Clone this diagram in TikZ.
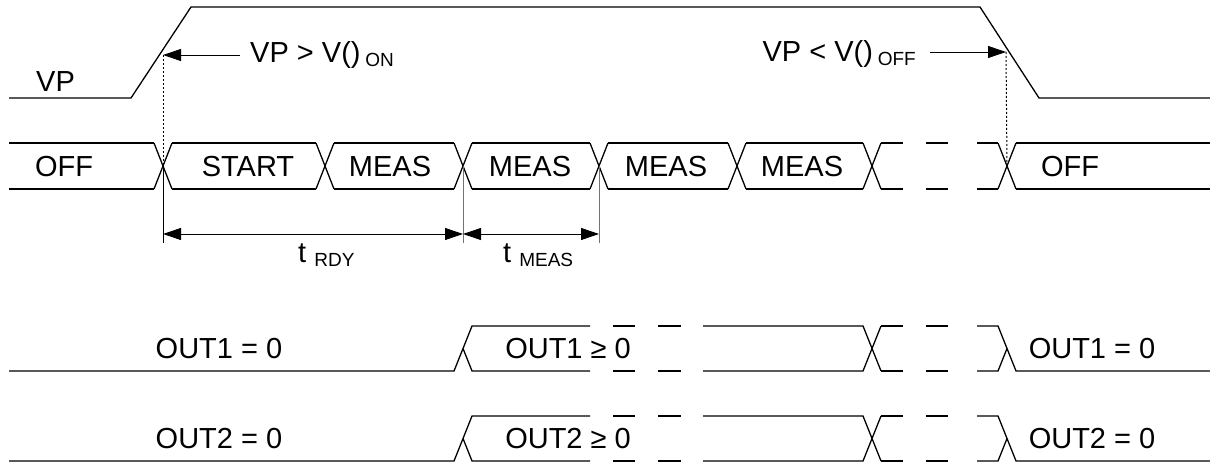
\documentclass[tikz,border=0pt]{standalone}
\usepackage{fontspec}
\setmainfont{Liberation Sans}
\usetikzlibrary{arrows.meta}
\newcommand\lbl{\fontsize{29}{34}\selectfont}
\newcommand\sublbl[1]{\raisebox{-4pt}{\fontsize{19}{22}\selectfont #1}}
\newcommand\busX[3]{
  \draw[sig] (#1-9,#2) -- (#1+9,#3) (#1-9,#3) -- (#1+9,#2);
}
\tikzset{>={Triangle[length=18pt,width=12pt]},
  sig/.style={line width=1.3pt},
  txt/.style={inner sep=0pt,font=\lbl,anchor=base},
  guide/.style={line width=1pt,dash pattern=on 2pt off 2pt},
  dim/.style={line width=0.9pt}}

\begin{document}
\begin{tikzpicture}[x=1pt,y=-1pt]
    \useasboundingbox (0,0) rectangle (1210,462);
    % supply VP
    \draw[sig] (9,98) -- (131,98) -- (191,7) -- (980,7) -- (1039,98) -- (1210,98);
    \node[txt,anchor=base west] (vp) at (36,92) {VP};
    \node[txt,anchor=base west] (von) at (250,63) {VP > V()\,\sublbl{ON}};
    \node[txt,anchor=base east] (voff) at (916,62) {VP < V()\,\sublbl{OFF}};
    \coordinate (ontip) at (163,55);
    \coordinate (onfrom) at (240,55);
    \coordinate (offtip) at (1006,52);
    \coordinate (offfrom) at (930,52);
    \draw[dim,->] (onfrom) -- (ontip);
    \draw[dim,->] (offfrom) -- (offtip);
    % state bus
    \foreach\a/\b in {9/154,172/316,334/454,472/590,608/728,746/863,881/903,926/948,977/998,1016/1210}{
     \draw[sig] (\a,143) -- (\b,143) (\a,189) -- (\b,189);}
    \foreach\x in {163,325,463,599,737,872,1007}{
     \busX{\x}{143}{189}}
    \coordinate (on) at (163,166);
    \coordinate (rdy) at (463,166);
    \coordinate (meas) at (599,166);
    \coordinate (off) at (1007,166);
    \draw[guide] (ontip) -- (on);
    \draw[guide] (offtip) -- (off);
    \node[txt] (s0) at (64,177) {OFF};
    \node[txt] (s1) at (248,177) {START};
    \node[txt] (s2) at (390,177) {MEAS};
    \node[txt] (s3) at (530,177) {MEAS};
    \node[txt] (s4) at (666,177) {MEAS};
    \node[txt] (s5) at (802,177) {MEAS};
    \node[txt] (s6) at (1070,177) {OFF};
    % timing
    \draw[dim] (on) -- ++(0,77);
    \draw[dim,black!55] (rdy) -- ++(0,77);
    \draw[dim,black!55] (meas) -- ++(0,77);
    \coordinate (d1) at (163,234);
    \coordinate (d2) at (463,234);
    \coordinate (d3) at (599,234);
    \draw[dim,<->] (d1) -- (d2);
    \draw[dim,<->] (d2) -- (d3);
    \node[txt,anchor=base west] (trdy) at (298,263) {t \sublbl{RDY}};
    \node[txt,anchor=base west] (tmeas) at (503,263) {t \sublbl{MEAS}};
    % outputs
    \foreach\t/\b/\n in {326/371/1,416/461/2}{
     \pgfmathsetmacro\m{(\t+\b)/2}
     \draw[sig] (9,\b) -- (454,\b) -- (472,\t) -- (590,\t);
     \draw[sig] (463,\m) -- (472,\b) -- (590,\b);
     \foreach\a/\e in {613/635,658/681,881/903,926/948}{
      \draw[sig] (\a,\t) -- (\e,\t) (\a,\b) -- (\e,\b);}
     \draw[sig] (703,\t) -- (863,\t) -- (881,\b) (703,\b) -- (863,\b) -- (881,\t);
     \draw[sig] (977,\t) -- (998,\t) -- (1016,\b) -- (1210,\b);
     \draw[sig] (977,\b) -- (998,\b) -- (1007,\m);
     \node[txt] (lo\n) at (219,\b-12.7) {OUT\n{} = 0};
     \node[txt] (hi\n) at (568,\b-12.7) {OUT\n{} ≥ 0};
     \node[txt] (end\n) at (1092,\b-12.7) {OUT\n{} = 0};}
\end{tikzpicture}
\end{document}
